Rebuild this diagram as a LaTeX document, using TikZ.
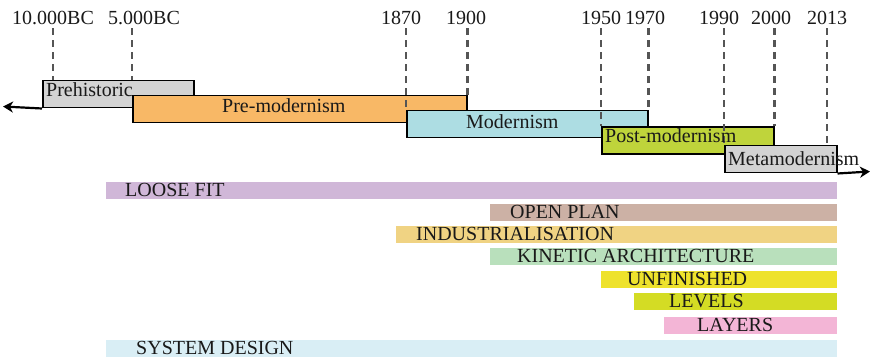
\documentclass[tikz,border=0pt]{standalone}
\usepackage{fontspec}
\setmainfont{Liberation Serif}
\usetikzlibrary{arrows.meta}
\definecolor{cGray}{HTML}{D3D3D3}
\definecolor{cOrange}{HTML}{F8B866}
\definecolor{cModern}{HTML}{ADDDE3}
\definecolor{cPost}{HTML}{BFD43B}
\definecolor{cLoose}{HTML}{D0B7D8}
\definecolor{cOpen}{HTML}{CCB1A5}
\definecolor{cIndus}{HTML}{F0D383}
\definecolor{cKinetic}{HTML}{B9E0BC}
\definecolor{cUnfin}{HTML}{EEE22C}
\definecolor{cLevels}{HTML}{D4DC24}
\definecolor{cLayers}{HTML}{F3B5D6}
\definecolor{cSystem}{HTML}{D9EEF5}
\definecolor{cDash}{HTML}{555555}
\begin{document}
\begin{tikzpicture}[x=1pt,y=-1pt,
  font=\fontsize{20}{22}\selectfont,
  period/.style={draw=black, line width=1.5pt, minimum height=27, inner sep=0, anchor=north west},
  bar/.style={inner sep=0, minimum height=16.7, anchor=north west},
  txt/.style={inner sep=0, anchor=base west, text=black!90},
  yr/.style={inner sep=3pt, anchor=base, text=black!90},
  dashline/.style={draw=cDash, line width=2.3pt, dash pattern=on 7pt off 5pt},
  axis/.style={draw=black, line width=2.2pt, -{Stealth[length=10pt,width=11pt,inset=3pt]}}]
\useasboundingbox (0,0) rectangle (870,358);

% period boxes
\node[period, fill=cGray, minimum width=151] (prehist) at (42,80) {};
\node[period, fill=cOrange, minimum width=334] (premod) at (132,95) {};
\node[period, fill=cModern, minimum width=241] (modern) at (406,110) {};
\node[period, fill=cPost, minimum width=172] (post) at (601,126.5) {};
\node[period, fill=cGray, minimum width=112] (meta) at (724,145) {};

% axis arrows
\coordinate (leftend) at (3,106.5);
\coordinate (rightend) at (870,171.5);
\draw[axis] (prehist.south west) -- (leftend);
\draw[axis] (meta.south east) -- (rightend);

% year labels
\node[yr] (y10k) at (53,25) {10.000BC};
\node[yr] (y5k) at (144,25) {5.000BC};
\node[yr] (y1870) at (401,25) {1870};
\node[yr] (y1900) at (466,25) {1900};
\node[yr] (y1950) at (601,25) {1950};
\node[yr] (y1970) at (645,25) {1970};
\node[yr] (y1990) at (719,25) {1990};
\node[yr] (y2000) at (771,25) {2000};
\node[yr] (y2013) at (827,25) {2013};

% dashed guide lines
\draw[dashline] (y10k.south) -- (y10k.south |- prehist.north);
\draw[dashline] (premod.north west |- y5k.south) -- (premod.north west |- prehist.north);
\draw[dashline] (modern.north west |- y1870.south) -- (modern.north west);
\draw[dashline] (premod.north east |- y1900.south) -- (premod.north east);
\draw[dashline] (post.north west |- y1950.south) -- (post.north west);
\draw[dashline] (modern.north east |- y1970.south) -- (modern.north east);
\draw[dashline] (meta.north west |- y1990.south) -- (meta.north west);
\draw[dashline] (post.north east |- y2000.south) -- (post.north east);
\draw[dashline] (y2013.south) -- (y2013.south |- meta.north);

% period texts
\node[txt] (tprehist) at (46,96.5) {Prehistoric};
\node[txt] (tpremod) at (222,113) {Pre-modernism};
\node[txt] (tmodern) at (466,128.5) {Modernism};
\node[txt] (tpost) at (605,143) {Post-modernism};
\node[txt] (tmeta) at (728,166) {Metamodernism};

% concept bars
\node[bar, fill=cLoose, minimum width=731] (loose) at (106,181.7) {};
\node[bar, fill=cOpen, minimum width=347] (open) at (490,204) {};
\node[bar, fill=cIndus, minimum width=441] (indus) at (396,225.7) {};
\node[bar, fill=cKinetic, minimum width=347] (kinetic) at (490,247.7) {};
\node[bar, fill=cUnfin, minimum width=236] (unfin) at (601,271) {};
\node[bar, fill=cLevels, minimum width=203] (levels) at (634,293) {};
\node[bar, fill=cLayers, minimum width=173] (layers) at (664,316.7) {};
\node[bar, fill=cSystem, minimum width=731] (system) at (106,340) {};

\node[txt] (tloose) at (125,196.3) {LOOSE FIT};
\node[txt] (topen) at (510,218.6) {OPEN PLAN};
\node[txt] (tindus) at (416,240.3) {INDUSTRIALISATION};
\node[txt] (tkinetic) at (517,262.3) {KINETIC ARCHITECTURE};
\node[txt] (tunfin) at (627,285.6) {UNFINISHED};
\node[txt] (tlevels) at (669,307.6) {LEVELS};
\node[txt] (tlayers) at (697,331.3) {LAYERS};
\node[txt] (tsystem) at (136,354.6) {SYSTEM DESIGN};
\end{tikzpicture}
\end{document}
